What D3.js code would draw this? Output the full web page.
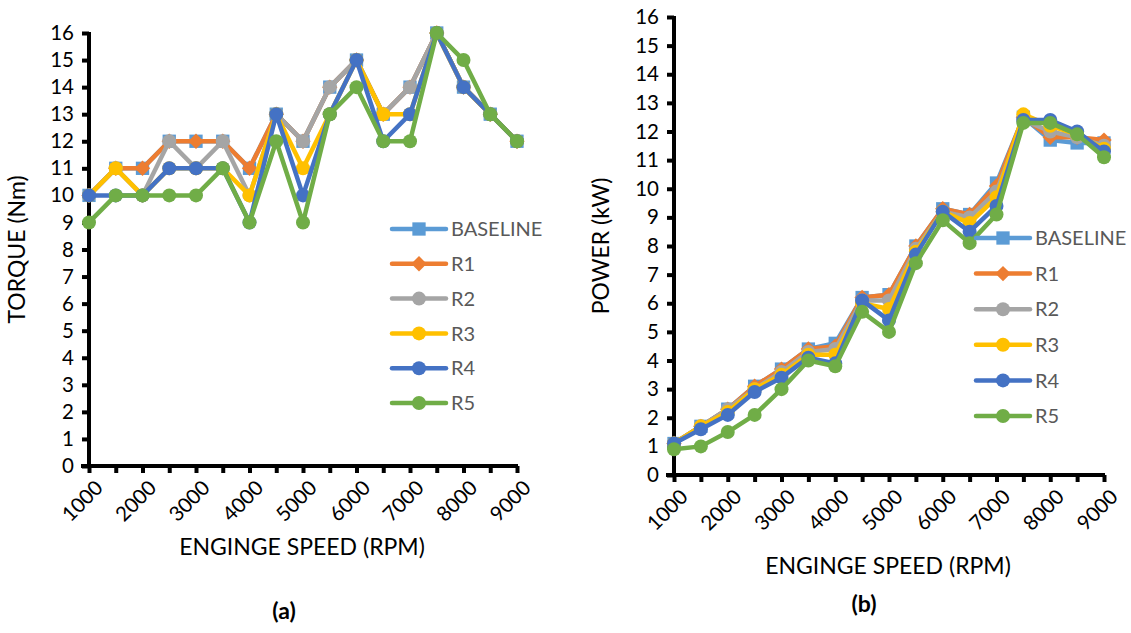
<!DOCTYPE html>
<html><head><meta charset="utf-8">
<script src="https://cdn.jsdelivr.net/npm/d3@7/dist/d3.min.js"></script>
<style>body{margin:0;background:#fff}svg{display:block}text{font-family:Lato,"Open Sans",sans-serif}</style>
</head><body>
<svg id="c" width="1131" height="633"></svg>
<script>
const speeds = [1000,1500,2000,2500,3000,3500,4000,4500,5000,5500,6000,6500,7000,7500,8000,8500,9000];
const xTickLabels = [1000,2000,3000,4000,5000,6000,7000,8000,9000];
const yTicks = d3.range(0,17);
const seriesNames = ["BASELINE","R1","R2","R3","R4","R5"];
const seriesColors = ["#5B9BD5","#ED7D31","#A5A5A5","#FFC000","#4472C4","#70AD47"];
const seriesMarkers = ["square","diamond","circle","circle","circle","circle"];

const torqueBaseline = [10,11,11,12,12,12,11,13,12,14,15,13,14,16,14,13,12];
const torqueR1       = [10,11,11,12,12,12,11,13,12,14,15,13,14,16,14,13,12];
const torqueR2       = [10,11,10,12,11,12,10,13,12,14,15,13,14,16,14,13,12];
const torqueR3       = [10,11,10,11,11,11,10,13,11,13,15,13,13,16,14,13,12];
const torqueR4       = [10,10,10,11,11,11,9,13,10,13,15,12,13,16,14,13,12];
const torqueR5       = [9,10,10,10,10,11,9,12,9,13,14,12,12,16,15,13,12];

const powerBaseline = [1.1,1.7,2.3,3.1,3.7,4.4,4.6,6.2,6.3,8.0,9.3,9.1,10.2,12.5,11.7,11.6,11.6];
const powerR1       = [1.1,1.7,2.3,3.1,3.7,4.4,4.5,6.2,6.3,8.0,9.3,9.1,10.1,12.5,11.8,11.8,11.7];
const powerR2       = [1.1,1.7,2.3,3.0,3.6,4.3,4.4,6.1,6.1,7.9,9.2,9.0,9.9,12.4,12.0,11.8,11.5];
const powerR3       = [1.1,1.7,2.2,3.0,3.5,4.2,4.2,6.0,5.8,7.8,9.2,8.8,9.7,12.6,12.2,11.9,11.4];
const powerR4       = [1.1,1.6,2.1,2.9,3.4,4.1,3.9,6.1,5.4,7.7,9.2,8.5,9.4,12.4,12.4,12.0,11.3];
const powerR5       = [0.9,1.0,1.5,2.1,3.0,4.0,3.8,5.7,5.0,7.4,8.9,8.1,9.1,12.3,12.3,11.9,11.1];

const torque = [torqueBaseline,torqueR1,torqueR2,torqueR3,torqueR4,torqueR5];
const power = [powerBaseline,powerR1,powerR2,powerR3,powerR4,powerR5];

const svg = d3.select("#c");

function marker(g, type, color, x, y, s) {
  if (type === "square") {
    g.append("rect").attr("x", x - s*0.95).attr("y", y - s*0.95).attr("width", s*1.9).attr("height", s*1.9).attr("fill", color);
  } else if (type === "diamond") {
    const d = s*1.1;
    g.append("path").attr("d", `M${x},${y-d}L${x+d},${y}L${x},${y+d}L${x-d},${y}Z`).attr("fill", color);
  } else {
    g.append("circle").attr("cx", x).attr("cy", y).attr("r", s).attr("fill", color);
  }
}

function chart(cfg) {
  const x = d3.scalePoint().domain(speeds).range([cfg.x0, cfg.x1]);
  const y = d3.scaleLinear().domain([0,16]).range([cfg.y0, cfg.y1]);
  const g = svg.append("g");

  // y axis
  const ya = g.append("g").attr("transform", `translate(${cfg.x0},0)`)
    .call(d3.axisLeft(y).tickValues(yTicks).tickSize(7).tickPadding(8).tickFormat(d3.format("d")));
  ya.select(".domain").attr("stroke", "#000").attr("stroke-width", 4).attr("d", `M0,${cfg.y1-1}V${cfg.y0}`);
  ya.selectAll(".tick line").attr("stroke", "#000").attr("stroke-width", 4);
  ya.selectAll(".tick text").attr("font-size", 20.5).attr("fill", "#000").attr("font-family", "Lato, sans-serif");

  // x axis
  const xa = g.append("g").attr("transform", `translate(0,${cfg.y0})`)
    .call(d3.axisBottom(x).tickSize(7).tickFormat(""));
  xa.select(".domain").attr("stroke", "#000").attr("stroke-width", 4).attr("d", `M${cfg.x0-8},0H${cfg.x1+1}`);
  xa.selectAll(".tick line").attr("stroke", "#000").attr("stroke-width", 4);
  xa.selectAll(".tick text").remove();
  const xl = g.append("g");
  xTickLabels.forEach(v => {
    xl.append("text")
      .attr("transform", `translate(${x(v)+5},${cfg.y0+13}) rotate(-45)`)
      .attr("text-anchor", "end").attr("dy", "0.7em")
      .attr("font-size", 20.5).attr("fill", "#000").text(v);
  });

  // titles
  g.append("text").attr("transform", `translate(${cfg.ytx},${(cfg.y0+cfg.y1)/2}) rotate(-90)`)
    .attr("text-anchor", "middle").attr("font-size", 23).attr("fill", "#000").text(cfg.ytitle);
  g.append("text").attr("x", cfg.xtx).attr("y", cfg.xty).attr("text-anchor", "middle")
    .attr("font-size", 23).attr("fill", "#000").text("ENGINGE SPEED (RPM)");
  g.append("text").attr("x", cfg.lx).attr("y", cfg.ly).attr("text-anchor", "middle")
    .attr("font-size", 23).attr("font-weight", "bold").attr("fill", "#000").text(cfg.letter);

  // series
  const line = d3.line().x((d,i) => x(speeds[i])).y(d => y(d));
  cfg.data.forEach((vals, si) => {
    const sg = g.append("g");
    sg.append("path").datum(vals).attr("d", line).attr("fill", "none")
      .attr("stroke", seriesColors[si]).attr("stroke-width", 4.5).attr("stroke-linejoin", "round");
    vals.forEach((v,i) => marker(sg, seriesMarkers[si], seriesColors[si], x(speeds[i]), y(v), 7));
  });

  // legend
  const lg = g.append("g");
  seriesNames.forEach((n, i) => {
    const yy = cfg.legY + i*cfg.legDy;
    lg.append("line").attr("x1", cfg.legX).attr("x2", cfg.legX + 54).attr("y1", yy).attr("y2", yy)
      .attr("stroke", seriesColors[i]).attr("stroke-width", 4.5).attr("stroke-linecap", "round");
    marker(lg, seriesMarkers[i], seriesColors[i], cfg.legX + 27, yy, 7);
    lg.append("text").attr("x", cfg.legX + 59).attr("y", yy).attr("dy", "0.36em")
      .attr("font-size", 20).attr("fill", "#595959").text(n);
  });
}

chart({x0:89, x1:517, y0:466, y1:33, data:torque, ytitle:"TORQUE (Nm)", ytx:25, xtx:302, xty:555,
  letter:"(a)", lx:284, ly:619, legX:392, legY:229, legDy:34.8});
chart({x0:674, x1:1104, y0:475, y1:17, data:power, ytitle:"POWER (kW)", ytx:609, xtx:888, xty:574,
  letter:"(b)", lx:864, ly:612, legX:976, legY:238, legDy:35.6});
</script>
</body></html>
